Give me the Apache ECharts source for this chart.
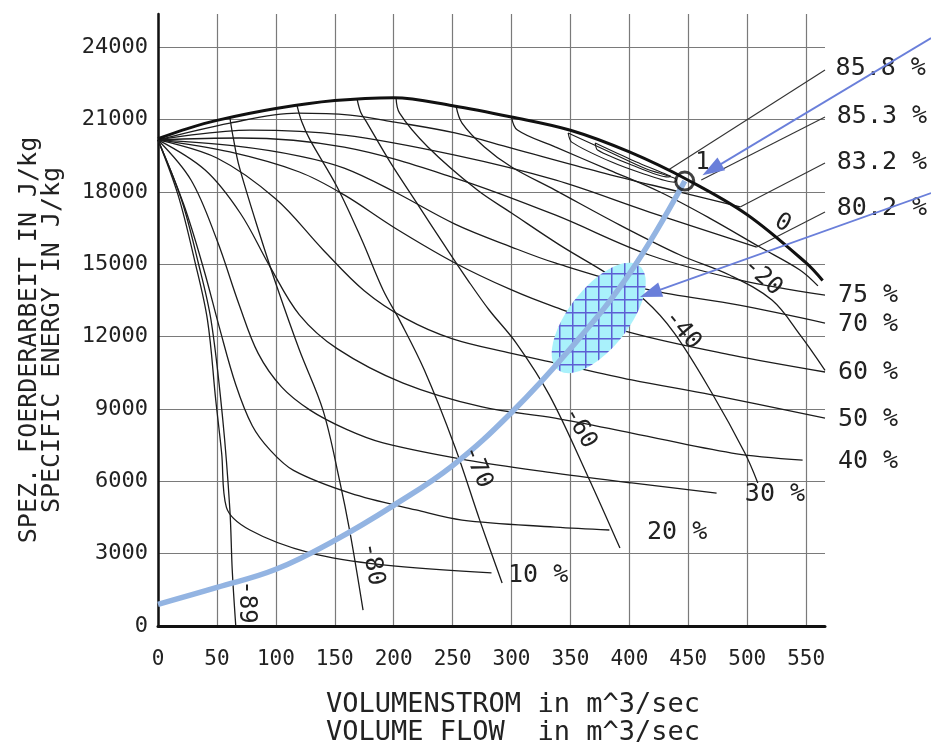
<!DOCTYPE html>
<html><head><meta charset="utf-8">
<script src="https://cdn.jsdelivr.net/npm/echarts@6/dist/echarts.min.js"></script>
<style>html,body{margin:0;padding:0;background:#fff}#c{width:931px;height:744px}</style>
</head><body><div id="c"></div>
<script>
// ---------- axes ----------
const xMin = 0, xMax = 566, xInterval = 50;
const yMin = 0, yMax = 25370, yInterval = 3000;
const xTitle = 'VOLUMENSTROM in m^3/sec\nVOLUME FLOW  in m^3/sec';
const yTitle = 'SPEZ. FOERDERARBEIT IN J/kg\nSPECIFIC ENERGY IN J/kg';

// ---------- thick envelope (surge line / max characteristic) ----------
const envelope = [[0,20200],[25,20620],[50,20960],[100,21450],[150,21780],[200,21900],[250,21570],[300,21100],[350,20550],[400,19650],[450,18480],[500,17050],[550,15050],[564,14320]];

// ---------- iso lines (% labels) ----------
const iso10 = [[0,20150],[17,17870],[31,15170],[42,12680],[49,9370],[54,7170],[58,4930],[78,3980],[129,3030],[191,2530],[283,2200]];
const iso20 = [[0,20150],[22,17450],[39,14760],[52,12390],[66,10000],[80,8300],[95,7300],[115,6450],[163,5510],[219,4810],[258,4390],[337,4100],[383,3980]];
const iso30 = [[0,20150],[28,18490],[50,16000],[69,13300],[85,11300],[105,9900],[129,8950],[160,8150],[191,7590],[262,6880],[337,6340],[402,5930],[474,5510]];
const iso40 = [[0,20150],[40,18900],[70,17100],[95,14900],[120,12900],[152,11500],[208,10070],[275,9080],[337,8620],[402,8000],[487,7170],[547,6880]];
const iso50 = [[0,20150],[50,19400],[100,17700],[140,15600],[175,13900],[210,12750],[250,11900],[300,11300],[337,10900],[402,10200],[470,9580],[566,8620]];
const iso60 = [[0,20150],[61,19650],[120,18820],[158,17870],[201,16500],[252,15050],[300,13930],[337,13220],[402,12150],[487,11230],[566,10530]];
const iso70 = [[0,20150],[65,19900],[120,19480],[158,18980],[201,17990],[252,16660],[300,15710],[337,15050],[417,13930],[492,13310],[566,12560]];
const iso75 = [[0,20150],[69,20230],[158,19850],[252,18570],[337,17040],[417,15380],[494,14340],[566,13720]];
const iso802 = [[0,20150],[78,20560],[158,20350],[252,19520],[337,18490],[417,17160],[508,15710]];
const iso832 = [[0,20150],[61,20850],[118,21260],[163,21180],[201,20890],[252,20440],[300,19810],[375,18820],[443,17990],[494,17370]];
const loop853 = [[348,20440],[385,19610],[413,18980],[438,18570],[440,18480],[438,18400],[413,18730],[385,19230],[351,20060],[348,20440]];
const loop858 = [[371,20020],[402,19320],[433,18690],[435,18650],[433,18610],[402,19110],[373,19730],[371,20020]];

// ---------- vane angle lines ----------
const vaneM89 = [[0,20150],[20,17660],[34,15090],[45,12680],[55,8540],[61,4810],[63,2320],[66,0]];
const vaneM80 = [[61,21070],[64,20200],[69,19030],[86,16290],[101,14050],[120,11440],[140,8950],[154,6050],[163,3860],[174,660]];
const vaneM70 = [[118,21570],[122,20900],[129,20150],[152,18200],[173,16000],[191,13930],[205,12680],[226,10610],[252,7420],[273,4390],[292,1780]];
const vaneM60 = [[169,21830],[172,21300],[177,20890],[197,19230],[219,17580],[243,15790],[264,14260],[281,13100],[304,11730],[332,9580],[365,6180],[392,3230]];
const vaneM40 = [[202,21900],[205,21260],[229,19860],[271,18070],[300,17120],[341,15790],[383,14550],[413,13510],[438,12150],[470,9660],[498,7170],[509,5930]];
const vaneM20 = [[253,21540],[258,20850],[277,19860],[300,19030],[337,18070],[392,16620],[443,15380],[485,14550],[521,13510],[545,12060],[566,10600]];
const vane0 = [[300,21100],[305,20560],[337,19860],[383,18900],[426,17990],[468,16910],[511,15700],[545,14750],[560,14100]];

// ---------- leader lines for efficiency labels: [x1,y1,x2,y2] ----------
const leaderLines = [[433,18900,566,23050],[461,18490,566,21100],[494,17370,566,19190],[508,15710,566,17160]];

// ---------- system curve, operating point, range ----------
const systemCurve = [[0,900],[50,1600],[100,2350],[150,3550],[200,5000],[250,6650],[300,8850],[350,11500],[400,14600],[447,18445]];
const operatingPoint = [447,18445];
const rangeCenter = [374,12770];
const arrows = [[656,24370,462,18690],[656,17950,409,13640]];

// ---------- labels ----------
const pctLabels = ['85.8 %','85.3 %','83.2 %','80.2 %','75 %','70 %','60 %','50 %','40 %','30 %','20 %','10 %'];
const pctLabelPos = [[575,23108],[576,21119],[576,19212],[576,17305],[577,13680],[577,12518],[577,10508],[577,8580],[577,6819],[498,5471],[415,3896],[297,2110]];
const vaneLabels = ['-89','-80','-70','-60','-40','-20','0','1'];
const vaneLabelPos = [[75,995],[182,2570],[271,6590],[358,8210],[445,12270],[513,14470],[530,16700],[462,19190]];
const vaneLabelRot = [-90,-80,-68,-60,-50,-42,-30,0];

// ============================================================
const FONT = '"DejaVu Sans Mono", "Liberation Mono", monospace';
const chart = echarts.init(document.getElementById('c'), null, {renderer:'canvas'});

const hatch = document.createElement('canvas');
hatch.width = 13; hatch.height = 13;
(function(){
  const g = hatch.getContext('2d');
  g.fillStyle = '#a9f1fb'; g.fillRect(0,0,13,13);
  g.strokeStyle = '#5d5fd4'; g.lineWidth = 1.5;
  g.beginPath(); g.moveTo(0,0.75); g.lineTo(13,0.75); g.moveTo(0.75,0); g.lineTo(0.75,13); g.stroke();
})();

function curve(data, width, color){
  return {type:'line', data:data, smooth:0.35, showSymbol:false, symbol:'none', silent:true,
    lineStyle:{color:color||'#1c1c1c', width:width||1.3}, z:4};
}

const series = [];
[iso10,iso20,iso30,iso40,iso50,iso60,iso70,iso75,iso802,iso832,
 vaneM89,vaneM80,vaneM70,vaneM60,vaneM40,vaneM20,vane0].forEach(d => series.push(curve(d,1.3)));
[loop853, loop858].forEach(d => series.push(Object.assign(curve(d,1.1), {smooth:0.25})));
leaderLines.forEach(l => series.push({type:'line', data:[[l[0],l[1]],[l[2],l[3]]], showSymbol:false, symbol:'none', silent:true, lineStyle:{color:'#333', width:1.1}, z:4}));
series.push(Object.assign(curve(envelope, 3, '#111'), {z:5}));

// hatched range ellipse
series.push({
  type:'custom', coordinateSystem:'cartesian2d', data:[rangeCenter], z:6, silent:true,
  encode:{x:0, y:1},
  renderItem:function(params, api){
    const c = api.coord([api.value(0), api.value(1)]);
    const a = 66, b = 30, th = 52*Math.PI/180, pts = [];
    for (let i=0;i<90;i++){
      const t = i/90*2*Math.PI, ex = a*Math.cos(t), ey = b*Math.sin(t);
      pts.push([c[0] + ex*Math.cos(th) - ey*Math.sin(th), c[1] - (ex*Math.sin(th) + ey*Math.cos(th))]);
    }
    return {type:'polygon', shape:{points:pts}, style:{fill:{image:hatch, repeat:'repeat'}, stroke:null}};
  }
});

// system curve
series.push({type:'line', data:systemCurve, smooth:0.4, showSymbol:false, symbol:'none', silent:true,
  lineStyle:{color:'#93b4e2', width:5.5}, z:7});

// operating point circle
series.push({type:'scatter', data:[operatingPoint], symbol:'circle', symbolSize:18, silent:true, z:8,
  itemStyle:{color:'rgba(0,0,0,0)', borderColor:'#111', borderWidth:3}});

// text labels
series.push({
  type:'custom', coordinateSystem:'cartesian2d', data:pctLabelPos, z:9, silent:true, encode:{x:0,y:1},
  renderItem:function(params, api){
    const p = api.coord([api.value(0), api.value(1)]);
    return {type:'text', x:p[0], y:p[1], style:{text:pctLabels[params.dataIndex], fill:'#222',
      font:'25px ' + FONT, align:'left', verticalAlign:'middle', textAlign:'left', textVerticalAlign:'middle'}};
  }
});
series.push({
  type:'custom', coordinateSystem:'cartesian2d', data:vaneLabelPos, z:9, silent:true, encode:{x:0,y:1},
  renderItem:function(params, api){
    const p = api.coord([api.value(0), api.value(1)]);
    return {type:'text', x:p[0], y:p[1], rotation:vaneLabelRot[params.dataIndex]*Math.PI/180,
      style:{text:vaneLabels[params.dataIndex], fill:'#222', font:'24px ' + FONT,
      align:'center', verticalAlign:'middle', textAlign:'center', textVerticalAlign:'middle'}};
  }
});

// blue arrows
series.push({
  type:'custom', coordinateSystem:'cartesian2d', data:arrows, z:10, silent:true, clip:false, encode:{x:0,y:1},
  renderItem:function(params, api){
    const p1 = api.coord([api.value(0), api.value(1)]);
    const p2 = api.coord([api.value(2), api.value(3)]);
    const dx = p2[0]-p1[0], dy = p2[1]-p1[1], L = Math.hypot(dx,dy), ux = dx/L, uy = dy/L;
    const hl = 22, hw = 7.5;
    const bx = p2[0]-ux*hl, by = p2[1]-uy*hl;
    return {type:'group', children:[
      {type:'line', shape:{x1:p1[0], y1:p1[1], x2:bx+ux*4, y2:by+uy*4}, style:{stroke:'#6a7fda', lineWidth:1.8}},
      {type:'polygon', shape:{points:[[p2[0],p2[1]],[bx-uy*hw, by+ux*hw],[bx+uy*hw, by-ux*hw]]}, style:{fill:'#6a7fda'}}
    ]};
  }
});

chart.setOption({
  animation:false,
  backgroundColor:'#fff',
  grid:{left:158, right:106, top:14, bottom:118, containLabel:false},
  xAxis:{type:'value', min:xMin, max:xMax, interval:xInterval,
    axisLine:{show:true, onZero:false, lineStyle:{color:'#111', width:3}},
    axisTick:{show:false},
    axisLabel:{showMaxLabel:false, color:'#222', fontFamily:FONT, fontSize:21, margin:23, formatter:v => String(v)},
    splitLine:{show:true, showMaxLine:false, lineStyle:{color:'#7a7a7a', width:1.2}}},
  yAxis:{type:'value', min:yMin, max:yMax, interval:yInterval,
    axisLine:{show:true, onZero:false, lineStyle:{color:'#111', width:2.5}},
    axisTick:{show:false},
    axisLabel:{showMaxLabel:false, color:'#222', fontFamily:FONT, fontSize:22, margin:10, formatter:v => String(v)},
    splitLine:{show:true, showMaxLine:false, lineStyle:{color:'#7a7a7a', width:1.2}}},
  graphic:[
    {type:'text', x:513, y:719, silent:true, style:{text:xTitle, fill:'#222', font:'27px ' + FONT, lineHeight:28, align:'center', verticalAlign:'middle'}},
    {type:'text', x:41, y:340, rotation:Math.PI/2, silent:true, style:{text:yTitle, fill:'#222', font:'25px ' + FONT, lineHeight:23, align:'center', verticalAlign:'middle'}}
  ],
  series:series
});
</script></body></html>
